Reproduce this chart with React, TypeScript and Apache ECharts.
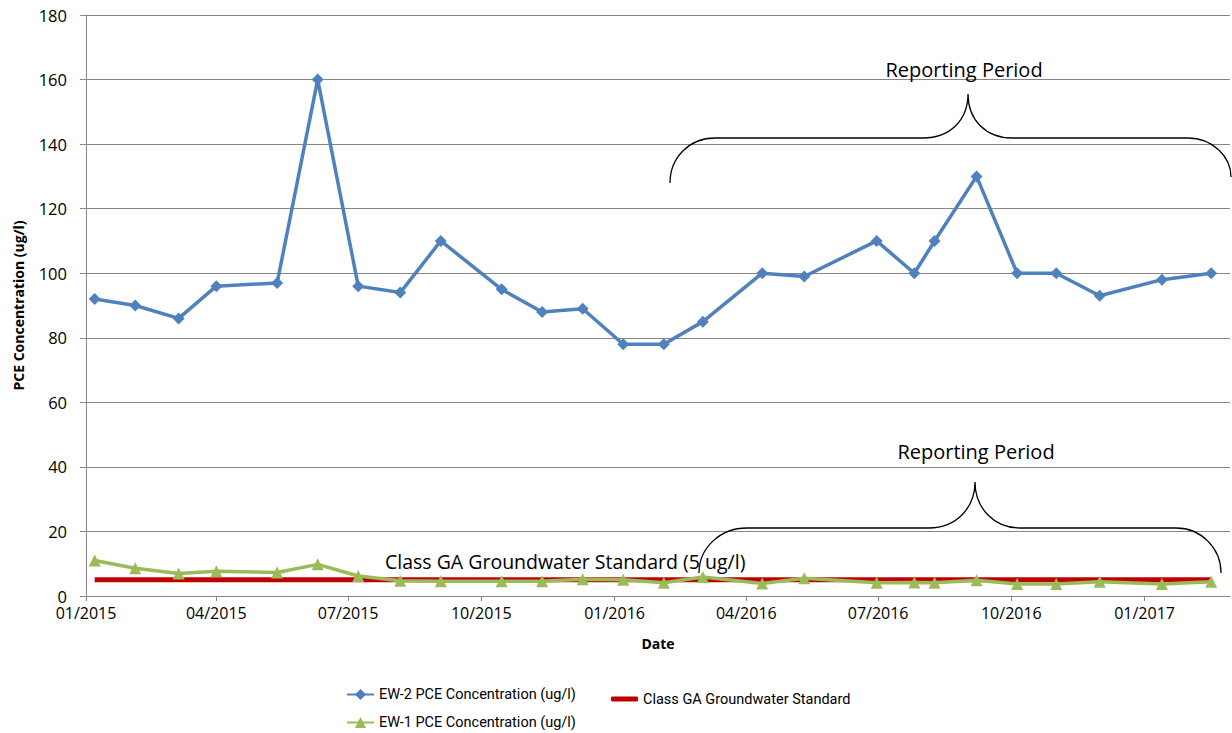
import React, { useEffect, useRef } from "react";
import * as echarts from "echarts";

// ---- data ----
const sampleDates = [
  "2015-01-07", "2015-02-04", "2015-03-06", "2015-04-01", "2015-05-13", "2015-06-10",
  "2015-07-08", "2015-08-06", "2015-09-03", "2015-10-15", "2015-11-12", "2015-12-10",
  "2016-01-07", "2016-02-04", "2016-03-02", "2016-04-12", "2016-05-11", "2016-06-30",
  "2016-07-26", "2016-08-09", "2016-09-07", "2016-10-05", "2016-11-01", "2016-12-01",
  "2017-01-13", "2017-02-16",
];
const ew2Values = [92, 90, 86, 96, 97, 160, 96, 94, 110, 95, 88, 89, 78, 78, 85, 100, 99, 110, 100, 110, 130, 100, 100, 93, 98, 100];
const ew1Values = [11, 8.6, 7, 7.7, 7.3, 9.8, 6.2, 4.7, 4.6, 4.6, 4.6, 5.2, 5.0, 4.1, 5.9, 3.9, 5.5, 4.1, 4.2, 4.1, 4.9, 3.7, 3.7, 4.4, 3.7, 4.4];
const standardDates = ["2015-01-07", "2017-02-16"];
const standardValues = [5, 5];

const axisMinDate = "2015-01-01";
const axisMaxDate = "2017-03-01";
const yMin = 0;
const yMax = 180;
const yStep = 20;

const seriesNames = [
  "EW-2 PCE Concentration (ug/l)",
  "Class GA Groundwater Standard",
  "EW-1 PCE Concentration (ug/l)",
];
const annotationTexts = ["Reporting Period", "Class GA Groundwater Standard (5 ug/l)"];

// brace shapes (annotation decorations)
const braceTopPath =
  "M670 183 C670 157 690 138 715 138 L923 138 C950 138 968 120 968 94 C968 120 986 138 1012 138 L1188 138 C1213 138 1231 157 1231 177";
const braceBottomPath =
  "M699 573 C699 548 720 528 747 528 L929 528 C956 528 975 508 975 482 C975 508 994 528 1020 528 L1176 528 C1201 528 1221 548 1221 573";
echarts.graphic.registerShape("braceTop", echarts.graphic.extendPath(braceTopPath, {}));
echarts.graphic.registerShape("braceBottom", echarts.graphic.extendPath(braceBottomPath, {}));

const toTs = (s: string) => new Date(s).getTime();
const pad = (n: number) => (n < 10 ? "0" + n : "" + n);

export default function App() {
  const ref = useRef<HTMLDivElement>(null);

  useEffect(() => {
    if (!ref.current) return;
    const chart = echarts.init(ref.current, undefined, { renderer: "svg" });
    const font = "Open Sans";
    const axisColor = "#868686";
    const day = 86400000;

    const legendText = { fontFamily: "Roboto", fontSize: 14.5, color: "#000" };

    const option: any = {
      animation: false,
      useUTC: true,
      backgroundColor: "#ffffff",
      textStyle: { fontFamily: font },
      grid: { left: 86, right: 2, top: 15, bottom: 137, containLabel: false },
      xAxis: {
        type: "time",
        min: toTs(axisMinDate),
        max: toTs(axisMaxDate),
        minInterval: 100 * day,
        maxInterval: 100 * day,
        name: "Date",
        nameLocation: "middle",
        nameGap: 40,
        nameTextStyle: { fontFamily: font, fontWeight: "bold", fontSize: 14, color: "#000" },
        axisLine: { show: true, lineStyle: { color: axisColor, width: 1 } },
        axisTick: { show: true, length: 5, lineStyle: { color: axisColor } },
        splitLine: { show: false },
        axisLabel: {
          showMaxLabel: false,
          fontFamily: font,
          fontSize: 16,
          lineHeight: 14,
          color: "#000",
          margin: 10,
          hideOverlap: false,
          formatter: (v: number) => {
            const d = new Date(v);
            return pad(d.getUTCMonth() + 1) + "/" + d.getUTCFullYear();
          },
        },
      },
      yAxis: {
        type: "value",
        min: yMin,
        max: yMax,
        interval: yStep,
        name: "PCE Concentration (ug/l)",
        nameLocation: "middle",
        nameRotate: 90,
        nameGap: 61,
        nameTextStyle: { fontFamily: font, fontWeight: "bold", fontSize: 14, color: "#000" },
        axisLine: { show: true, lineStyle: { color: axisColor, width: 1 } },
        axisTick: { show: true, length: 6, lineStyle: { color: axisColor } },
        splitLine: { show: true, lineStyle: { color: axisColor, width: 1 } },
        axisLabel: { fontFamily: font, fontSize: 16.5, lineHeight: 13, color: "#000", margin: 19 },
      },
      legend: [
        {
          data: [seriesNames[0]],
          left: 346,
          top: 687,
          padding: 0,
          itemWidth: 27,
          itemHeight: 14,
          selectedMode: false,
          textStyle: legendText,
        },
        {
          data: [{ name: seriesNames[1], icon: "roundRect" }],
          left: 611,
          top: 691.5,
          padding: 0,
          itemWidth: 27,
          itemHeight: 5,
          selectedMode: false,
          textStyle: legendText,
        },
        {
          data: [seriesNames[2]],
          left: 346,
          top: 715,
          padding: 0,
          itemWidth: 27,
          itemHeight: 14,
          selectedMode: false,
          textStyle: legendText,
        },
      ],
      series: [
        {
          name: seriesNames[0],
          type: "line",
          data: sampleDates.map((d, i) => [toTs(d), ew2Values[i]]),
          symbol: "diamond",
          symbolSize: 12,
          showAllSymbol: true,
          lineStyle: { color: "#4F81BD", width: 3.5 },
          itemStyle: { color: "#4F81BD" },
          z: 2,
        },
        {
          name: seriesNames[1],
          type: "line",
          data: standardDates.map((d, i) => [toTs(d), standardValues[i]]),
          symbol: "none",
          lineStyle: { color: "#C00000", width: 5 },
          itemStyle: { color: "#C00000" },
          z: 3,
        },
        {
          name: seriesNames[2],
          type: "line",
          data: sampleDates.map((d, i) => [toTs(d), ew1Values[i]]),
          symbol: "triangle",
          symbolSize: 12,
          showAllSymbol: true,
          lineStyle: { color: "#9BBB59", width: 3.5 },
          itemStyle: { color: "#9BBB59" },
          z: 4,
        },
      ],
      graphic: [
        {
          type: "braceTop",
          x: 0,
          y: 0,
          z: 10,
          style: { stroke: "#000", fill: "none", lineWidth: 1.3 },
        },
        {
          type: "braceBottom",
          x: 0,
          y: 0,
          z: 10,
          style: { stroke: "#000", fill: "none", lineWidth: 1.3 },
        },
        {
          type: "text",
          x: 964,
          y: 69,
          z: 10,
          style: { text: annotationTexts[0], fontFamily: font, fontSize: 20, fill: "#000", align: "center", verticalAlign: "middle" },
        },
        {
          type: "text",
          x: 976,
          y: 451,
          z: 10,
          style: { text: annotationTexts[0], fontFamily: font, fontSize: 20, fill: "#000", align: "center", verticalAlign: "middle" },
        },
        {
          type: "text",
          x: 385,
          y: 561,
          z: 10,
          style: { text: annotationTexts[1], fontFamily: font, fontSize: 19.5, fill: "#000", align: "left", verticalAlign: "middle" },
        },
      ],
    };
    chart.setOption(option);
    return () => chart.dispose();
  }, []);

  return (
    <div
      ref={ref}
      style={{ position: "fixed", left: 0, top: 0, width: 1232, height: 733, background: "#fff" }}
    />
  );
}
